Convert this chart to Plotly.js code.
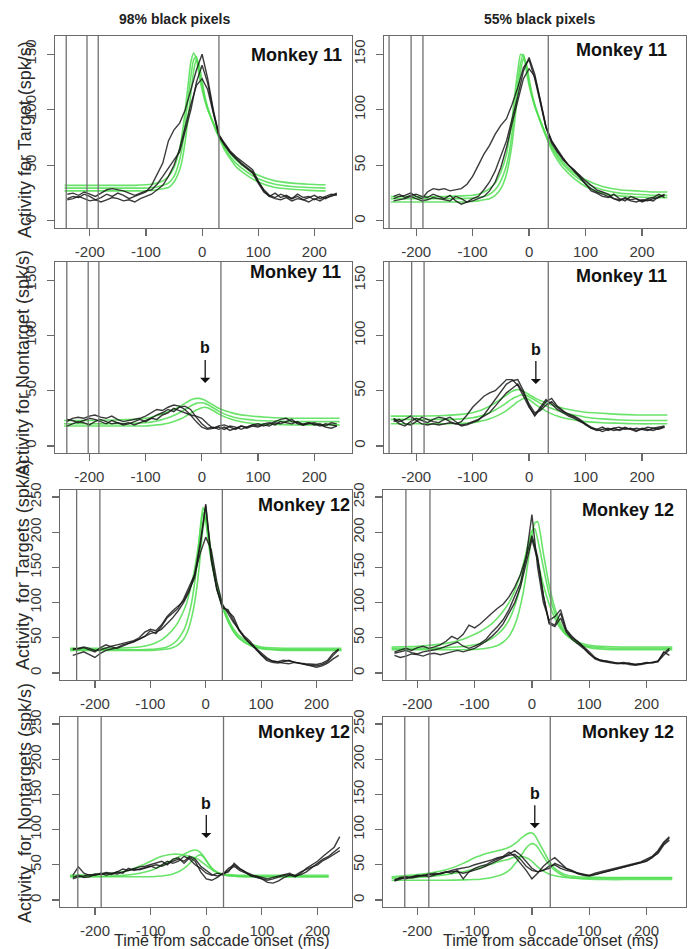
<!DOCTYPE html>
<html><head><meta charset="utf-8">
<script src="https://cdn.plot.ly/plotly-3.0.1.min.js"></script>
<style>html,body{margin:0;padding:0;background:#fff}#chart{width:692px;height:949px}</style>
</head><body><div id="chart"></div>
<script>
// ---------- DATA ----------
const tBlack = [-240,-230,-220,-210,-200,-190,-180,-170,-160,-150,-140,-130,-120,-110,-100,-90,-80,-70,-60,-50,-40,-30,-20,-10,0,10,20,30,40,50,60,70,80,90,100,110,120,130,140,150,160,170,180,190,200,210,220,230,240];
const tGreen = [-245,-200,-150,-120,-100,-90,-80,-70,-60,-50,-40,-35,-30,-25,-20,-15,-10,-5,0,5,10,20,30,40,50,60,80,100,130,160,190,220,245];
const xTicks = [-200,-100,0,100,200];
const xTickText = ["-200","-100","0","100","200"];
const yTicksM11 = [0,50,100,150];
const yTicksM12 = [0,50,100,150,200,250];
const columnTitles = ["98% black pixels","55% black pixels"];
const yTitles = ["Activity for Target (spk/s)","Activity for Nontarget (spk/s)","Activity\u00a0 for Targets (spk/s)","Activity\u00a0 for Nontargets (spk/s)"];
const xTitle = "Time from saccade onset (ms)";

// Monkey 11, targets, 98%
const aK1 = [20,22,21,24,22,19,21,24,22,25,23,20,22,24,26,32,42,52,72,82,88,100,118,136,150,128,100,77,70,63,58,54,50,46,36,27,22,25,21,23,20,24,21,22,19,22,20,23,25];
const aK2 = [24,25,23,26,24,22,25,28,29,28,27,25,23,25,27,28,33,40,48,55,62,80,100,125,140,124,98,78,69,62,57,52,48,44,35,28,23,21,24,22,20,22,19,21,23,20,22,24,23];
const aK3 = [19,20,22,20,18,19,17,19,21,20,18,19,17,20,22,24,28,32,40,50,65,85,105,122,128,118,96,76,68,61,56,51,47,43,34,26,22,20,19,21,18,20,19,17,20,18,21,22,24];
const aG1 = [32,32,32,32,32.5,33,34,36,40,48,65,80,100,122,143,151,145,130,118,108,100,88,77,68,61,55,47,41,36,34,33,32.5];
const aG2 = [29.5,29.5,29.5,29.5,29.5,30,30.5,32,34,40,55,68,88,110,130,145,148,135,122,110,101,88,76,66,58,52,44,38,33,31,30,29.5];
const aG3 = [27,27,27,27,27,27.5,28,29,30,35,46,56,72,92,115,135,145,140,126,112,102,87,75,64,56,49,41,35,30,28.5,27.5,27];
// Monkey 11, targets, 55%
const bK1 = [20,22,23,25,22,20,26,29,28,29,27,28,29,33,40,50,60,68,78,86,92,105,120,138,145,128,105,84,72,64,57,50,45,41,36,32,28,26,24,20,18,21,19,20,17,19,18,22,23];
const bK2 = [22,24,21,23,24,22,21,24,22,20,23,18,15,17,20,22,28,35,45,58,72,92,112,135,147,132,108,85,72,63,55,50,46,40,34,27,25,22,21,24,20,18,22,20,18,20,21,24,21];
const bK3 = [18,19,20,22,20,18,19,21,20,19,18,22,20,17,18,20,22,27,35,48,66,88,108,128,137,130,108,84,70,62,56,50,44,38,33,29,26,24,22,20,19,20,18,17,19,18,20,21,24];
const bG1 = [22,22,22,22.5,23,24,26,29,34,44,60,75,92,115,135,150,148,135,122,112,103,90,78,68,60,53,43,37,31,28,27,26,26];
const bG2 = [20,20,20,20,20.5,21,22,24,28,36,50,62,80,102,125,142,150,140,125,113,104,90,77,66,58,51,41,34,28,25,24,23,23];
const bG3 = [17,17,17,17,17.5,18,19,20,23,29,42,54,70,92,115,135,146,142,128,115,105,89,76,64,55,48,38,31,25,22.5,21.5,21,21];
// Monkey 11, nontarget, 98%
const cK1 = [22,25,26,25,27,28,26,25,27,24,22,23,24,25,27,30,33,32,35,37,36,33,28,22,17,15,16,18,19,17,15,18,17,19,20,18,20,22,24,25,22,21,20,21,19,20,18,21,20];
const cK2 = [18,20,22,21,19,22,24,22,20,21,19,20,22,24,22,25,28,30,33,31,35,36,33,26,20,16,17,15,17,14,16,18,16,18,17,19,18,21,20,22,24,20,19,21,20,18,20,19,18];
const cK3 = [24,23,21,23,25,24,22,20,23,21,20,21,19,21,23,25,24,28,30,34,32,30,28,27,25,20,16,17,15,18,17,15,17,19,18,20,21,19,22,21,20,22,19,20,21,19,17,16,18];
const cG1 = [23,23,23.5,24,25,26,27.5,29,31,33,35.5,37,38.5,40,41.5,42.5,43,43,42.5,41.5,40,37,34,32,30.5,29,27.5,26.5,25.5,25,25,25,25];
const cG2 = [20,20,20,20.5,21,21.5,22.5,24,25.5,27.5,30,31.5,33,34.5,36,37.5,38.5,39,39,38.5,37.5,34.5,31.5,29,27,25.5,24,23,22.5,22,22,22,22];
const cG3 = [18,18,18,18,18,18.5,19,19.5,20.5,22,24,25,26.5,28,29.5,31,32.5,33.5,34.5,35,34.5,32,29,26.5,24.5,23,21,20,19.5,19,19,19,19];
// Monkey 11, nontarget, 55%
const dK1 = [24,20,18,22,25,23,21,24,26,25,22,20,22,28,35,40,45,48,50,55,60,60,55,45,35,28,35,42,38,33,30,27,25,22,20,16,15,17,14,16,17,15,16,14,15,17,16,15,17];
const dK2 = [22,24,20,19,22,26,24,22,21,24,26,22,18,19,21,23,28,35,42,50,56,59,60,50,36,27,33,40,43,36,32,28,26,23,19,16,14,15,16,14,15,17,15,16,15,14,16,17,18];
const dK3 = [25,22,24,27,23,20,19,20,19,20,21,20,19,20,22,24,27,30,36,42,48,52,56,48,38,30,32,37,40,35,31,29,27,24,20,17,15,13,15,16,14,16,15,13,16,15,14,16,17];
const dG1 = [27,27,27.5,28.5,30,31.5,33.5,36,39,42.5,46,48,49.5,50.5,51,50.5,49.5,48,46.5,45,43.5,41,39,37,35.5,34,32,30.5,29.5,28.5,28,28,28];
const dG2 = [24,24,24,24.5,25.5,26.5,28,30,32.5,35.5,39,41,42.5,44,45,46,46,45.5,44.5,43,41.5,38.5,36,34,32,30,28,26,24.5,23.5,23,23,23];
const dG3 = [20,20,20,20.5,21,22,23,24.5,26.5,29,32,34,36,38,40,41.5,43,43,42,40,38,34.5,31.5,29,27,25.5,23.5,22,21,20.5,20,20,20];
// Monkey 12, targets, 98%
const eK1 = [35,34,36,33,30,36,40,37,35,38,42,45,48,52,60,56,66,78,85,92,105,122,140,185,240,165,120,92,90,75,60,50,42,33,25,18,15,14,16,18,15,13,12,11,10,12,16,25,33];
const eK2 = [33,35,37,35,32,33,36,38,40,42,44,46,50,58,62,60,68,80,88,95,102,118,135,180,238,160,118,95,88,80,62,52,45,35,26,20,17,16,18,17,15,14,13,12,12,14,18,28,34];
const eK3 = [25,28,30,26,22,28,32,34,36,40,42,44,48,52,56,58,62,70,78,88,100,115,140,170,193,175,130,98,85,72,62,50,42,35,28,22,17,15,14,13,15,14,12,10,8,10,14,20,25];
const eG1 = [35,35,35.5,37,40,43,47,53,61,72,88,98,112,128,148,172,200,228,215,185,160,125,98,78,63,53,42,37,35.5,35,35,35,35];
const eG2 = [33,33,33,33,33.5,34,35,37,41,48,60,70,84,102,128,160,205,235,222,190,162,122,94,74,60,50,40,35.5,33.5,33,33,33,33];
const eG3 = [32,32,32,32,32,32.5,33,34,36,40,48,55,65,80,100,128,165,205,222,200,170,125,95,74,59,49,39,34.5,32.5,32,32,32,32];
// Monkey 12, targets, 55%
const fK1 = [30,33,35,32,36,38,35,37,40,45,52,48,55,68,64,70,78,85,92,98,108,122,140,165,195,165,110,72,68,85,60,50,45,38,30,22,18,17,16,14,15,13,12,13,14,15,16,25,33];
const fK2 = [28,30,32,29,27,30,31,33,35,38,40,44,38,35,38,42,48,58,66,76,90,110,128,165,225,150,100,75,80,90,62,52,44,36,28,20,17,15,14,13,14,12,11,12,13,15,17,28,35];
const fK3 = [25,22,24,27,26,24,27,28,26,28,30,32,30,32,35,40,45,52,60,70,85,100,122,155,190,160,110,70,66,78,58,48,42,35,27,21,18,16,15,14,13,14,12,13,15,14,16,30,25];
const fG1 = [37,38,42,48,55,59,64,70,78,88,100,108,117,128,140,155,172,188,195,180,160,125,98,78,63,54,44,39.5,37.5,37,37,37,37];
const fG2 = [33,33,33,33,33.5,34,35,36.5,39,44,52,59,68,80,96,115,140,168,195,213,215,170,125,92,70,56,42,36,33.5,33,33,33,33];
const fG3 = [35,35,36,37.5,40,42,45,49,55,63,75,84,95,108,124,143,165,188,202,205,190,150,112,85,66,54,42,37.5,35.5,35,35,35,35];
// Monkey 12, nontargets, 98%
const gK1 = [35,47,38,35,37,36,38,36,40,44,42,45,47,48,50,52,55,50,58,60,52,60,55,40,30,28,32,38,40,52,45,40,36,33,30,25,24,27,32,35,33,38,45,50,55,62,68,75,90];
const gK2 = [32,35,32,33,36,38,35,37,40,38,45,42,44,46,48,45,50,55,52,55,62,58,50,45,38,35,38,36,42,48,42,38,35,34,32,30,32,34,35,38,34,36,40,46,52,58,62,68,75];
const gK3 = [30,33,34,36,35,37,39,38,37,40,42,44,43,45,47,50,48,52,55,58,55,62,58,48,42,36,34,37,45,50,44,40,34,32,31,28,30,33,35,36,35,40,44,47,50,56,60,65,70];
const gG1 = [35,36,40,48,55,59,62,64,65,65,64,63,62,61,60,58,55,52,49,46,43,39,37,36,35.5,35,35,35,35,35,35,35];
const gG2 = [33,33.5,35,38,42,45,49,53,57,61,65,67,69,70.5,71,70,67,62,56,50,45,39,36,34.5,34,33.5,33,33,33,33,33,33];
const gG3 = [33,33,33,33,33,33.5,34,35,37,40,45,48,52,56,60,63,64,61,56,50,45,39,36,34.5,34,33.5,33,33,33,33,33,33];
// Monkey 12, nontargets, 55%
const hK1 = [27,30,32,33,34,35,33,36,38,40,38,42,30,40,45,48,50,55,58,62,68,62,52,42,30,38,48,55,60,52,45,42,38,36,35,38,40,42,44,46,48,50,52,54,58,62,70,82,90];
const hK2 = [29,31,30,32,35,34,36,38,37,40,42,44,45,47,50,52,55,57,60,62,63,65,58,48,42,40,42,48,50,45,42,40,38,36,35,36,38,40,42,45,47,48,50,52,55,60,68,80,88];
const hK3 = [28,32,33,31,33,35,37,36,38,40,41,40,38,40,42,45,48,52,55,60,65,70,64,55,45,40,42,45,52,48,44,41,37,35,34,36,38,41,43,44,47,49,51,53,56,61,66,78,85];
const hG1 = [33,36,43,52,60,63,66,68,70,72,75,77,80,83,87,90,93,95,95,92,85,70,55,45,39,35.5,33,32.5,32,32,32,32,32];
const hG2 = [28,28,28,28.5,29,29.5,30.5,32,34,37,42,46,51,56,62,68,74,78,80,79,75,62,50,42,36.5,33,30.5,29.5,29,29,29,29,29];
const hG3 = [31,32,36,40,44,46,49,51,54,56,58,59.5,60.5,61.5,62,61.5,60,58,55,51,47,41,37,34.5,33,32,31,31,31,31,31,31,31];

// event times (vertical reference lines), ms
const vA = [-242,-205,-185,30];
const vB = [-248,-209,-188,34];
const vC = [-240,-202,-183,34];
const vD = [-248,-208,-186,34];
const vE = [-233,-191,30];
const vF = [-220,-178,33];
const vG = [-231,-189,31];
const vH = [-222,-180,32];

// ---------- LAYOUT CONFIG ----------
const W = 692, H = 949;
const FONT = '"Liberation Sans", Arial, Helvetica, sans-serif';
const panels = [
  {xpx:[55,352], ypx:[36,228], xr:[-262,267], yr:[-6.4,166.4], yt:yTicksM11, k:[aK1,aK2,aK3], g:[aG1,aG2,aG3], v:vA, label:'Monkey 11', lx:344, ly:55},
  {xpx:[384,686],ypx:[36,228], xr:[-257,278], yr:[-6.4,166.4], yt:yTicksM11, k:[bK1,bK2,bK3], g:[bG1,bG2,bG3], v:vB, label:'Monkey 11', lx:669, ly:50},
  {xpx:[55,352], ypx:[262,453],xr:[-261,267], yr:[-6.4,166.4], yt:yTicksM11, k:[cK1,cK2,cK3], g:[cG1,cG2,cG3], v:vC, label:'Monkey 11', lx:343, ly:272, b:[6,57]},
  {xpx:[384,686],ypx:[262,453],xr:[-257,278], yr:[-6.4,166.4], yt:yTicksM11, k:[dK1,dK2,dK3], g:[dG1,dG2,dG3], v:vD, label:'Monkey 11', lx:669, ly:276, b:[12,56]},
  {xpx:[60,352], ypx:[490,680],xr:[-263,264], yr:[-10,260], yt:yTicksM12, k:[eK1,eK2,eK3], g:[eG1,eG2,eG3], v:vE, label:'Monkey 12', lx:352, ly:505},
  {xpx:[383,686],ypx:[490,680],xr:[-260,269], yr:[-10,260], yt:yTicksM12, k:[fK1,fK2,fK3], g:[fG1,fG2,fG3], v:vF, label:'Monkey 12', lx:676, ly:510},
  {xpx:[60,352], ypx:[717,907],xr:[-263,262], yr:[-10,260], yt:yTicksM12, k:[gK1,gK2,gK3], g:[gG1,gG2,gG3], v:vG, label:'Monkey 12', lx:352, ly:732, b:[0,88]},
  {xpx:[383,686],ypx:[717,907],xr:[-260,269], yr:[-10,260], yt:yTicksM12, k:[hK1,hK2,hK3], g:[hG1,hG2,hG3], v:vH, label:'Monkey 12', lx:676, ly:732, b:[5,102]}
];

const GREEN = 'rgba(80,222,80,0.85)';
const BLACK = 'rgba(25,25,25,0.85)';
const AXC = '#6a6a6a';

const traces = [];
const layout = {
  width: W, height: H,
  margin: {l:0, r:0, t:0, b:0},
  paper_bgcolor: '#fff', plot_bgcolor: '#fff',
  showlegend: false,
  font: {family: FONT, color: '#333'},
  shapes: [], annotations: []
};

panels.forEach((p, i) => {
  const s = i === 0 ? '' : String(i + 1);
  const xa = 'x' + s, ya = 'y' + s;
  p.g.forEach(arr => traces.push({
    x: tGreen, y: arr, xaxis: xa, yaxis: ya, type: 'scatter', mode: 'lines',
    line: {color: GREEN, width: 1.6, shape: 'spline', smoothing: 0.6}, hoverinfo: 'skip'
  }));
  p.k.forEach(arr => traces.push({
    x: tBlack, y: arr, xaxis: xa, yaxis: ya, type: 'scatter', mode: 'lines',
    line: {color: BLACK, width: 1.4}, hoverinfo: 'skip'
  }));
  layout['xaxis' + s] = {
    domain: [p.xpx[0] / W, p.xpx[1] / W], range: p.xr, anchor: ya,
    showgrid: false, zeroline: false, showline: true, mirror: true,
    linecolor: AXC, linewidth: 1.3, ticks: 'outside', ticklen: 7, tickwidth: 1.2, tickcolor: AXC,
    tickmode: 'array', tickvals: xTicks, ticktext: xTickText,
    tickfont: {size: 15, color: '#3a3a3a', family: FONT}, ticklabelstandoff: 3
  };
  layout['yaxis' + s] = {
    domain: [1 - p.ypx[1] / H, 1 - p.ypx[0] / H], range: p.yr, anchor: xa,
    showgrid: false, zeroline: false, showline: true, mirror: true,
    linecolor: AXC, linewidth: 1.3, ticks: 'outside', ticklen: 7, tickwidth: 1.2, tickcolor: AXC,
    tickvals: p.yt, tickangle: -90, tickfont: {size: 15, color: '#3a3a3a', family: FONT}, ticklabelstandoff: 5
  };
  p.v.forEach(t => layout.shapes.push({
    type: 'line', xref: xa, yref: ya + ' domain', x0: t, x1: t, y0: 0, y1: 1,
    line: {color: '#707070', width: 1.3}
  }));
  layout.annotations.push({
    xref: 'paper', yref: 'paper', x: p.lx / W, y: 1 - p.ly / H, xanchor: 'right', yanchor: 'middle',
    text: '<b>' + p.label + '</b>', showarrow: false, font: {size: 18, color: '#111', family: FONT}
  });
  if (p.b) {
    layout.annotations.push({
      xref: xa, yref: ya, x: p.b[0], y: p.b[1], ax: 0, ay: -35, axref: 'pixel', ayref: 'pixel',
      text: '<b>b</b>', showarrow: true, arrowhead: 1, arrowsize: 1.3, arrowwidth: 1.3, arrowcolor: '#111',
      standoff: 0, startstandoff: 2, font: {size: 16, color: '#111', family: FONT}
    });
  }
});

// column titles
[[175, columnTitles[0]], [540, columnTitles[1]]].forEach(([cx, t]) => layout.annotations.push({
  xref: 'paper', yref: 'paper', x: cx / W, y: 1 - 19 / H, xanchor: 'center', yanchor: 'middle',
  text: '<b>' + t + '</b>', showarrow: false, font: {size: 14, color: '#222', family: FONT}
}));
// y titles
[[25, 140], [23, 363], [23, 565], [25, 803]].forEach(([cx, cy], i) => layout.annotations.push({
  xref: 'paper', yref: 'paper', x: cx / W, y: 1 - cy / H, xanchor: 'center', yanchor: 'middle',
  text: yTitles[i], textangle: -90, showarrow: false, font: {size: 18, color: '#2a2a2a', family: FONT}
}));
// x titles
[222, 550].forEach(cx => layout.annotations.push({
  xref: 'paper', yref: 'paper', x: cx / W, y: 1 - 940 / H, xanchor: 'center', yanchor: 'middle',
  text: xTitle, showarrow: false, font: {size: 16, color: '#2a2a2a', family: FONT}
}));

Plotly.newPlot('chart', traces, layout, {staticPlot: true, displayModeBar: false});
</script>
</body></html>
